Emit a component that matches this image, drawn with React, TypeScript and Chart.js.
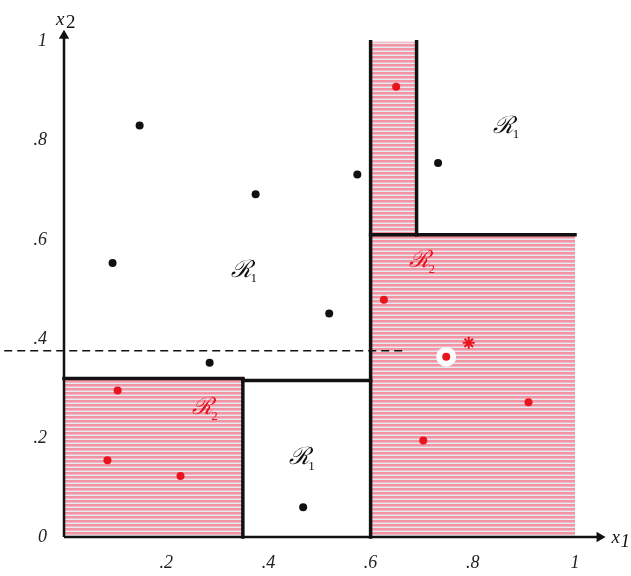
import React, { useEffect, useRef } from "react";
import { Chart, registerables } from "chart.js";

Chart.register(...registerables);

// Data points (x1, x2)
const blackPoints = [
  { x: 0.148, y: 0.831 },
  { x: 0.095, y: 0.553 },
  { x: 0.375, y: 0.692 },
  { x: 0.574, y: 0.732 },
  { x: 0.519, y: 0.451 },
  { x: 0.285, y: 0.352 },
  { x: 0.468, y: 0.06 },
  { x: 0.732, y: 0.755 },
];
const redPoints = [
  { x: 0.65, y: 0.909 },
  { x: 0.626, y: 0.479 },
  { x: 0.909, y: 0.272 },
  { x: 0.703, y: 0.195 },
  { x: 0.105, y: 0.296 },
  { x: 0.085, y: 0.155 },
  { x: 0.228, y: 0.123 },
];
const testPoint = [{ x: 0.748, y: 0.364 }];
const starMark = [{ x: 0.792, y: 0.392 }];

// Shaded R2 rectangles: [x0, x1, yBottom, yTop]
const shadedRects = [
  [0, 0.35, 0, 0.32],
  [0.6, 1.0, 0, 0.61],
  [0.6, 0.69, 0.61, 1.0],
];

// Boundary segments: [xA, yA, xB, yB]
const boundarySegments = [
  [0, 0.32, 0.35, 0.32],
  [0.35, 0, 0.35, 0.318],
  [0.35, 0.316, 0.6, 0.316],
  [0.6, 0, 0.6, 1.0],
  [0.69, 0.61, 0.69, 1.0],
  [0.6, 0.61, 1.0, 0.61],
];

const dashedLine = [
  { x: -0.117, y: 0.376 },
  { x: 0.67, y: 0.376 },
];

const xTickValues = [0.2, 0.4, 0.6, 0.8, 1];
const xTickLabels = [".2", ".4", ".6", ".8", "1"];
const yTickValues = [0, 0.2, 0.4, 0.6, 0.8, 1];
const yTickLabels = ["0", ".2", ".4", ".6", ".8", "1"];

// Region labels: [name, subscript, x, y, color]
const regionLabels: [string, string, number, number, string][] = [
  ["ℛ", "1", 0.461, 0.159, "#111"],
  ["ℛ", "1", 0.348, 0.537, "#111"],
  ["ℛ", "1", 0.861, 0.829, "#111"],
  ["ℛ", "2", 0.271, 0.26, "#e8141e"],
  ["ℛ", "2", 0.696, 0.557, "#e8141e"],
];

export default function App() {
  const ref = useRef<HTMLCanvasElement | null>(null);

  useEffect(() => {
    if (!ref.current) return;
    const pc = document.createElement("canvas");
    pc.width = 2;
    pc.height = 4;
    const pctx = pc.getContext("2d")!;
    pctx.fillStyle = "rgb(243,148,164)";
    pctx.fillRect(0, 0, 2, 2);
    pctx.fillStyle = "rgb(247,182,193)";
    pctx.fillRect(0, 2, 2, 1);
    pctx.fillStyle = "rgb(222,238,243)";
    pctx.fillRect(0, 3, 2, 1);
    const pattern = pctx.createPattern(pc, "repeat")!;

    const datasets: any[] = [];
    shadedRects.forEach((r) => {
      datasets.push({
        data: [
          { x: r[0], y: r[3] },
          { x: r[1], y: r[3] },
        ],
        showLine: true,
        borderWidth: 0,
        borderColor: "rgba(0,0,0,0)",
        pointRadius: 0,
        backgroundColor: pattern,
        fill: { value: r[2] },
        order: 10,
        clip: false,
      });
    });
    boundarySegments.forEach((s) => {
      datasets.push({
        data: [
          { x: s[0], y: s[1] },
          { x: s[2], y: s[3] },
        ],
        showLine: true,
        borderWidth: 3.5,
        borderColor: "#111",
        borderCapStyle: "square",
        pointRadius: 0,
        fill: false,
        order: 6,
        clip: false,
      });
    });
    // axes
    datasets.push({
      data: [
        { x: 0, y: 0 },
        { x: 0, y: 1.01 },
      ],
      showLine: true,
      borderWidth: 2.5,
      borderColor: "#111",
      pointRadius: 0,
      fill: false,
      order: 5,
      clip: false,
    });
    datasets.push({
      data: [
        { x: 0, y: 0 },
        { x: 1.045, y: 0 },
      ],
      showLine: true,
      borderWidth: 2.5,
      borderColor: "#111",
      pointRadius: 0,
      fill: false,
      order: 5,
      clip: false,
    });
    datasets.push({
      data: [{ x: 0, y: 1.012 }],
      pointStyle: "triangle",
      pointRadius: 6,
      rotation: 0,
      backgroundColor: "#111",
      borderColor: "#111",
      borderWidth: 0,
      order: 4,
      clip: false,
    });
    datasets.push({
      data: [{ x: 1.048, y: 0 }],
      pointStyle: "triangle",
      pointRadius: 6,
      rotation: 90,
      backgroundColor: "#111",
      borderColor: "#111",
      borderWidth: 0,
      order: 4,
      clip: false,
    });
    datasets.push({
      data: dashedLine,
      showLine: true,
      borderWidth: 1.5,
      borderColor: "#111",
      borderDash: [8, 5],
      pointRadius: 0,
      fill: false,
      order: 5,
      clip: false,
    });
    datasets.push({
      data: testPoint,
      pointRadius: 10,
      backgroundColor: "#ffffff",
      borderWidth: 0,
      order: 3,
      clip: false,
    });
    datasets.push({
      data: blackPoints,
      pointRadius: 4,
      backgroundColor: "#111",
      borderWidth: 0,
      order: 1,
    });
    datasets.push({
      data: redPoints.concat(testPoint),
      pointRadius: 4,
      backgroundColor: "#e8141e",
      borderWidth: 0,
      order: 1,
    });
    datasets.push({
      data: starMark,
      pointStyle: "star",
      pointRadius: 6,
      borderColor: "#e8141e",
      backgroundColor: "#e8141e",
      borderWidth: 2,
      order: 1,
      clip: false,
    });

    const labelPlugin = {
      id: "regionLabels",
      afterDatasetsDraw(chart: any) {
        const ctx = chart.ctx;
        const xs = chart.scales.x;
        const ys = chart.scales.y;
        ctx.save();
        regionLabels.forEach(([name, sub, x, y, color]) => {
          const px = xs.getPixelForValue(x);
          const py = ys.getPixelForValue(y);
          ctx.fillStyle = color;
          ctx.font = "italic 24px 'DejaVu Serif', 'Noto Sans CJK SC'";
          ctx.textAlign = "center";
          ctx.textBaseline = "middle";
          ctx.fillText(name, px, py);
          ctx.font = "13px 'Liberation Serif'";
          ctx.fillText(sub, px + 12, py + 8);
        });
        // axis titles
        ctx.fillStyle = "#111";
        ctx.textAlign = "left";
        ctx.textBaseline = "middle";
        const x0 = xs.getPixelForValue(0);
        const y1 = ys.getPixelForValue(1);
        ctx.font = "italic 19px 'Liberation Serif'";
        ctx.fillText("x", x0 - 8, y1 - 22);
        ctx.font = "19px 'Liberation Serif'";
        ctx.fillText("2", x0 + 2, y1 - 19);
        const xr = xs.getPixelForValue(1.048) + 12;
        const y0 = ys.getPixelForValue(0);
        ctx.font = "italic 19px 'Liberation Serif'";
        ctx.fillText("x", xr, y0 + 1);
        ctx.fillText("1", xr + 9, y0 + 5);
        ctx.restore();
      },
    };

    const chart = new Chart(ref.current, {
      type: "scatter",
      data: { datasets },
      plugins: [labelPlugin],
      options: {
        animation: false,
        responsive: false,
        events: [],
        layout: { padding: { left: 0, right: 5, top: 5, bottom: 0 } },
        plugins: {
          legend: { display: false },
          tooltip: { enabled: false },
        },
        scales: {
          x: {
            type: "linear",
            min: 0,
            max: 1.09,
            grid: { display: false, drawTicks: false },
            border: { display: false },
            afterFit(scale: any) {
              scale.height = 39;
            },
            afterBuildTicks(scale: any) {
              scale.ticks = xTickValues.map((v) => ({ value: v }));
            },
            ticks: {
              padding: 15,
              color: "#222",
              font: { family: "'Liberation Serif'", style: "italic", size: 18 },
              callback: (v: any) => {
                const i = xTickValues.indexOf(Number(v));
                return i >= 0 ? xTickLabels[i] : "";
              },
            },
          },
          y: {
            type: "linear",
            min: 0,
            max: 1.028,
            grid: { display: false, drawTicks: false },
            border: { display: false },
            afterFit(scale: any) {
              scale.width = 64;
            },
            afterBuildTicks(scale: any) {
              scale.ticks = yTickValues.map((v) => ({ value: v }));
            },
            ticks: {
              padding: 17,
              color: "#222",
              font: { family: "'Liberation Serif'", style: "italic", size: 18 },
              callback: (v: any) => {
                const i = yTickValues.indexOf(Number(v));
                return i >= 0 ? yTickLabels[i] : "";
              },
            },
          },
        },
      },
    });
    return () => chart.destroy();
  }, []);

  return (
    <div style={{ position: "absolute", left: 0, top: 0, width: 631, height: 576, background: "#fff" }}>
      <canvas ref={ref} width={631} height={576} style={{ display: "block" }} />
    </div>
  );
}
